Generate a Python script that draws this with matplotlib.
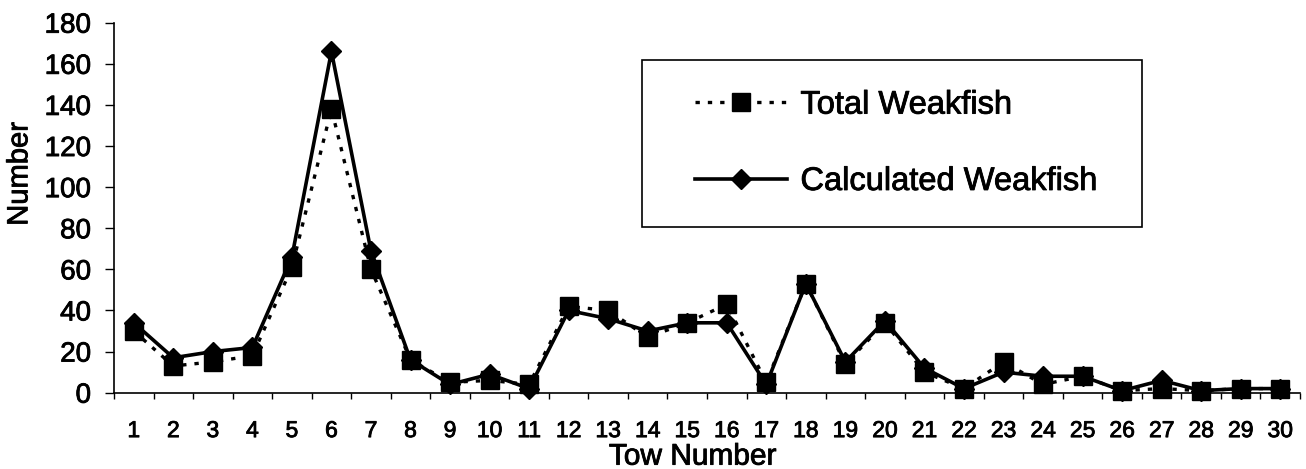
import numpy as np
import matplotlib
matplotlib.use("Agg")
import matplotlib.pyplot as plt
import matplotlib.patheffects as pe
from matplotlib.patches import Rectangle

plt.rcParams["font.family"] = ["Liberation Sans", "DejaVu Sans"]
# scanned original: text looks a touch heavier than plain Arial
plt.rcParams["path.effects"] = []
INK = [pe.withStroke(linewidth=0.6, foreground="black")]

# data
tows = list(range(1, 31))
total_weakfish = [30, 13, 15, 18, 61, 138, 60, 16, 5, 6, 4, 42, 40, 27, 34,
                  43, 5, 53, 14, 34, 10, 2, 15, 4, 8, 1, 2, 1, 2, 2]
calc_weakfish = [34, 17, 20, 22, 66, 166, 69, 16, 4, 9, 2, 40, 36, 30, 34,
                 34, 4, 53, 15, 35, 12, 2, 10, 8, 8, 1, 6, 1, 2, 2]
y_ticks = list(range(0, 181, 20))

W, H = 1306, 469
fig = plt.figure(figsize=(W / 100, H / 100), dpi=100)
ax = fig.add_axes([114 / W, 1 - 392.7 / H, 1186 / W, 370 / H])

ax.plot(tows, calc_weakfish, color="black", lw=2.6, ls="-",
        marker="D", ms=10, label="Calculated Weakfish", clip_on=False, zorder=3)
ax.plot(tows, total_weakfish, color="black", lw=2.4, ls=(0, (1.3, 2.4)),
        marker="s", ms=13.5, label="Total Weakfish", clip_on=False, zorder=4)

ax.set_xlim(0.5, 30.5)
ax.set_ylim(0, 180)
ax.set_yticks(y_ticks)

# category axis: ticks between categories, labels at centres
ax.set_xticks(np.arange(0.5, 31, 1))
ax.set_xticklabels([])
ax.set_xticks(tows, minor=True)
ax.set_xticklabels([str(t) for t in tows], minor=True)
ax.tick_params(axis="x", which="major", direction="out", length=4.5, width=1)
ax.tick_params(axis="x", which="minor", length=0, pad=19, labelsize=16.5)
ax.tick_params(axis="y", direction="out", length=6.5, width=1, pad=10,
               labelsize=20)

for s in ("top", "right"):
    ax.spines[s].set_visible(False)
for s in ("left", "bottom"):
    ax.spines[s].set_linewidth(1.2)

ax.set_xlabel("Tow Number", fontsize=21.5)
ax.xaxis.set_label_coords(0.488, -0.135)
ax.set_ylabel("Number", fontsize=21)
ax.yaxis.set_label_coords(-0.068, 0.591)

# legend box drawn separately
fig.patches.append(Rectangle((641.7 / W, 1 - 227 / H), (1142 - 641.7) / W,
                             (227 - 60) / H, transform=fig.transFigure,
                             facecolor="white", edgecolor="black", lw=1.2,
                             zorder=5))
h, l = ax.get_legend_handles_labels()
leg = fig.legend(h[::-1], l[::-1], loc="center left",
                 bbox_to_anchor=(679 / W, 1 - 143.3 / H),
                 frameon=False, fontsize=23.5, borderpad=0,
                 handlelength=2.82, handletextpad=0.4, labelspacing=1.39)
leg.set_zorder(6)

texts = ax.get_xticklabels(minor=True) + ax.get_yticklabels() + \
    [ax.xaxis.label, ax.yaxis.label] + leg.get_texts()
for t in texts:
    t.set_path_effects(INK)

fig.savefig("out.png", dpi=100, facecolor="white")
